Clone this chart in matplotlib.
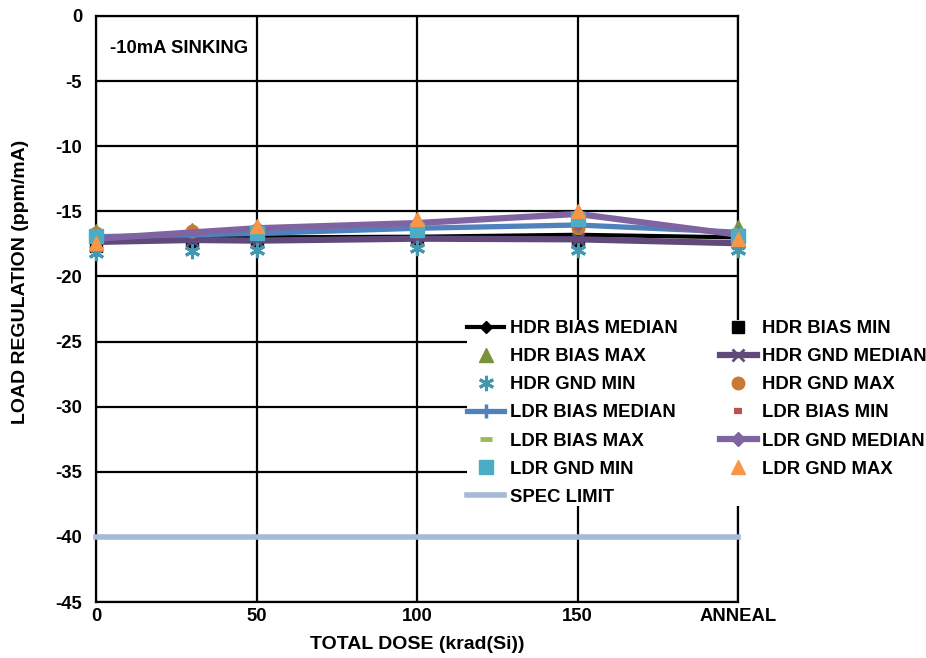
import numpy as np
import matplotlib.pyplot as plt

plt.rcParams['font.family'] = ['Liberation Sans', 'DejaVu Sans']
plt.rcParams['font.weight'] = 'bold'
plt.rcParams['axes.unicode_minus'] = False

# total dose in krad(Si); the last point is the anneal step
hdr_dose = [0, 30, 50, 100, 150, 200]
ldr_dose = [0, 50, 100, 150, 200]
tick_pos = [0, 50, 100, 150, 200]
tick_labels = ['0', '50', '100', '150', 'ANNEAL']

hdr_bias_median = [-17.3, -17.0, -17.0, -16.95, -16.8, -17.0]
hdr_bias_min = [-17.7, -17.35, -17.25, -17.2, -17.3, -17.3]
hdr_bias_max = [-16.5, -16.4, -16.3, -16.0, -15.7, -16.2]
hdr_gnd_median = [-17.35, -17.2, -17.25, -17.1, -17.15, -17.45]
hdr_gnd_min = [-18.2, -18.05, -18.0, -17.8, -18.0, -18.0]
hdr_gnd_max = [-16.7, -16.5, -16.6, -16.5, -16.3, -16.9]

ldr_bias_median = [-16.95, -16.7, -16.3, -16.05, -16.6]
ldr_bias_min = [-17.1, -17.0, -16.6, -16.2, -16.9]
ldr_bias_max = [-16.9, -16.5, -16.2, -15.9, -16.4]
ldr_gnd_median = [-17.1, -16.3, -15.9, -15.2, -16.8]
ldr_gnd_min = [-16.9, -16.7, -16.4, -15.6, -16.9]
ldr_gnd_max = [-17.4, -16.1, -15.6, -15.0, -17.1]

spec_dose = [0, 200]
spec_limit = [-40, -40]

fig = plt.figure(figsize=(9.26, 6.58), dpi=100)
ax = fig.add_axes([0.1037, 0.0851, 0.6933, 0.8906])

fs = 13.3
h = {}
h['SPEC LIMIT'] = ax.plot(spec_dose, spec_limit, color='#a5b9d9', lw=4, clip_on=False, zorder=3)[0]
h['HDR BIAS MEDIAN'] = ax.plot(hdr_dose, hdr_bias_median, color='black', lw=3, marker='D', ms=6, clip_on=False, zorder=3)[0]
h['HDR BIAS MIN'] = ax.plot(hdr_dose, hdr_bias_min, ls='none', color='black', marker='s', ms=8.5, clip_on=False, zorder=3)[0]
h['HDR BIAS MAX'] = ax.plot(hdr_dose, hdr_bias_max, ls='none', color='#77933c', marker='^', ms=10, clip_on=False, zorder=3)[0]
h['HDR GND MEDIAN'] = ax.plot(hdr_dose, hdr_gnd_median, color='#604a7b', lw=4.5, marker='x', ms=8, mew=2, clip_on=False, zorder=3)[0]
h['HDR GND MIN'] = ax.plot(hdr_dose, hdr_gnd_min, ls='none', color='#4198af', marker=(6, 2, 0), ms=11, mew=2.2, clip_on=False, zorder=3)[0]
h['HDR GND MAX'] = ax.plot(hdr_dose, hdr_gnd_max, ls='none', color='#c77a34', marker='o', ms=9, clip_on=False, zorder=3)[0]
h['LDR BIAS MEDIAN'] = ax.plot(ldr_dose, ldr_bias_median, color='#4f81bd', lw=3.8, marker='|', ms=10, mew=2.5, clip_on=False, zorder=3)[0]
h['LDR BIAS MIN'] = ax.plot(ldr_dose, ldr_bias_min, ls='none', color='#c0504d', marker='_', ms=6, mew=4.5, clip_on=False, zorder=3)[0]
h['LDR BIAS MAX'] = ax.plot(ldr_dose, ldr_bias_max, ls='none', color='#9bbb59', marker='_', ms=9, mew=3.5, clip_on=False, zorder=3)[0]
h['LDR GND MEDIAN'] = ax.plot(ldr_dose, ldr_gnd_median, color='#8064a2', lw=4.5, marker='D', ms=7, clip_on=False, zorder=3)[0]
h['LDR GND MIN'] = ax.plot(ldr_dose, ldr_gnd_min, ls='none', color='#4bacc6', marker='s', ms=9.5, clip_on=False, zorder=3)[0]
h['LDR GND MAX'] = ax.plot(ldr_dose, ldr_gnd_max, ls='none', color='#f79646', marker='^', ms=10.5, clip_on=False, zorder=3)[0]

ax.set_xlim(0, 200)
ax.set_ylim(-45, 0)
ax.set_xticks(tick_pos)
ax.set_xticklabels(tick_labels)
ax.set_yticks(np.arange(-45, 1, 5))
ax.tick_params(axis='both', length=0, labelsize=fs)
ax.tick_params(axis='y', pad=10)
ax.tick_params(axis='x', pad=4)
ax.grid(True, color='black', lw=1.6)
ax.set_axisbelow(True)
for s in ax.spines.values():
    s.set_linewidth(1.6)

ax.set_xlabel('TOTAL DOSE (krad(Si))', fontsize=14, fontweight='bold')
ax.set_ylabel('LOAD REGULATION (ppm/mA)', fontsize=14, fontweight='bold')
ax.xaxis.set_label_coords(0.5, -0.058)
ax.yaxis.set_label_coords(-0.104, 0.546)

ax.text(0.022, 0.945, '-10mA SINKING', transform=ax.transAxes, fontsize=fs,
        fontweight='bold', va='center', ha='left')

order = ['HDR BIAS MEDIAN', 'HDR BIAS MAX', 'HDR GND MIN', 'LDR BIAS MEDIAN',
         'LDR BIAS MAX', 'LDR GND MIN', 'SPEC LIMIT',
         'HDR BIAS MIN', 'HDR GND MEDIAN', 'HDR GND MAX', 'LDR BIAS MIN',
         'LDR GND MEDIAN', 'LDR GND MAX']
leg = ax.legend([h[k] for k in order], order, ncol=2, loc='upper left',
                bbox_to_anchor=(458 / 926, 1 - 311 / 658), bbox_transform=fig.transFigure,
                prop={'size': fs, 'weight': 'bold'}, frameon=True, facecolor='white',
                edgecolor='none', framealpha=1, fancybox=False, borderpad=0.0,
                handlelength=2.0, handletextpad=0.3, columnspacing=2.3, labelspacing=0.6)
leg.set_zorder(5)

fig.savefig('out.png', dpi=100)
